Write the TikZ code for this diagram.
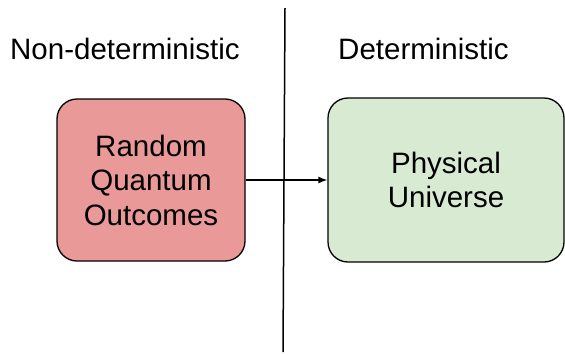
\documentclass[tikz,border=0pt]{standalone}
\usepackage{fontspec}
\setmainfont{Liberation Sans}
\usetikzlibrary{arrows.meta}
\definecolor{redfill}{HTML}{EA9999}
\definecolor{greenfill}{HTML}{D9EAD3}
\tikzset{
  box/.style={draw=black, line width=1.3pt, rounded corners=20pt, align=center,
    font=\fontsize{29.5}{34.5}\selectfont, inner sep=0pt},
  heading/.style={font=\fontsize{29.5}{34.5}\selectfont, inner sep=0pt, anchor=base west},
  conn/.style={line width=1.3pt, -{Latex[length=9pt,width=7pt]}},
  divider/.style={line width=1.5pt}
}
\begin{document}
\begin{tikzpicture}[x=1pt,y=-1pt]
\useasboundingbox (0,0) rectangle (565,354);
\node[heading] (hl) at (10,59) {Non-deterministic};
\node[heading] (hr) at (338,59) {Deterministic};
\coordinate (top) at (285,8);
\coordinate (bot) at (283,352);
\draw[divider] (top) -- (bot);
\node[box, fill=redfill, minimum width=188pt, minimum height=162pt] (L) at (151,180) {Random\\Quantum\\Outcomes};
\node[box, fill=greenfill, minimum width=236pt, minimum height=164pt] (R) at (446,180) {Physical\\Universe};
\draw[conn] (L.east) -- (R.west);
\end{tikzpicture}
\end{document}
